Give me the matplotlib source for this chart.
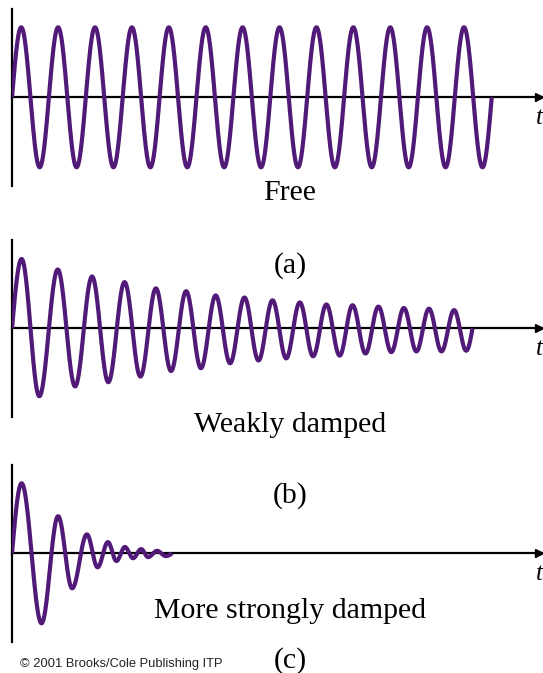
import numpy as np
import matplotlib.pyplot as plt

# time in units of the free period, displacement in units of the free amplitude
free_peak_t = [0.25, 1.25, 2.25, 3.25, 4.25, 5.25, 6.25, 7.25, 8.25, 9.25, 10.25, 11.25, 12.25]
free_trough_t = [0.75, 1.75, 2.75, 3.75, 4.75, 5.75, 6.75, 7.75, 8.75, 9.75, 10.75, 11.75, 12.75]
free_peak_a = [1.0] * 13
free_trough_a = [1.0] * 13
free_end = 13.0

weak_peak_t = [0.26, 1.24, 2.17, 3.05, 3.90, 4.72, 5.52, 6.30, 7.06, 7.80, 8.52, 9.23, 9.93, 10.62, 11.30, 11.98]
weak_trough_t = [0.74, 1.71, 2.61, 3.48, 4.31, 5.12, 5.91, 6.68, 7.43, 8.16, 8.88, 9.58, 10.28, 10.96, 11.64, 12.31]
weak_peak_a = [0.99, 0.84, 0.74, 0.66, 0.57, 0.53, 0.47, 0.44, 0.40, 0.37, 0.34, 0.33, 0.31, 0.29, 0.28, 0.26]
weak_trough_a = [0.97, 0.83, 0.77, 0.69, 0.61, 0.57, 0.50, 0.46, 0.43, 0.40, 0.39, 0.36, 0.34, 0.33, 0.33, 0.32]
weak_end = 12.48

strong_peak_t = [0.26, 1.25, 2.03, 2.60, 3.06, 3.50, 3.93]
strong_trough_t = [0.80, 1.63, 2.32, 2.83, 3.28, 3.69, 4.17]
strong_peak_a = [1.0, 0.53, 0.27, 0.16, 0.09, 0.06, 0.035]
strong_trough_a = [1.0, 0.50, 0.20, 0.11, 0.07, 0.055, 0.04]
strong_end = 4.34

captions = ["Free", "Weakly damped", "More strongly damped"]
letters = ["(a)", "(b)", "(c)"]

PURPLE = "#521a78"
W, H = 543, 673


def trace(peak_t, peak_a, trough_t, trough_a, t_end, n=60):
    t_ext = np.concatenate([peak_t, trough_t])
    a_ext = np.concatenate([peak_a, -np.array(trough_a)])
    order = np.argsort(t_ext)
    t_ext, a_ext = t_ext[order], a_ext[order]
    s = np.linspace(0, 1, n)
    ts = [t_ext[0] * s]
    ys = [a_ext[0] * np.sin(np.pi / 2 * s)]
    for i in range(len(t_ext) - 1):
        ts.append(t_ext[i] + (t_ext[i + 1] - t_ext[i]) * s)
        c = np.cos(np.pi * s)
        ys.append(a_ext[i] * (1 + c) / 2 + a_ext[i + 1] * (1 - c) / 2)
    ts.append(t_ext[-1] + (t_end - t_ext[-1]) * s)
    ys.append(a_ext[-1] * np.cos(np.pi / 2 * s))
    return np.concatenate(ts), np.concatenate(ys)


panels = [
    (free_peak_t, free_peak_a, free_trough_t, free_trough_a, free_end),
    (weak_peak_t, weak_peak_a, weak_trough_t, weak_trough_a, weak_end),
    (strong_peak_t, strong_peak_a, strong_trough_t, strong_trough_a, strong_end),
]
tops = [9, 240, 465]
cap_y = [193, 425, 611]
let_y = [266, 496, 661]

fig = plt.figure(figsize=(W / 100, H / 100), dpi=100)
px_per_t = 36.9
px_per_a = 70.0
box_h = 177
zero_off = 88.3
for k, (pt, pa, tt, ta, te) in enumerate(panels):
    top = tops[k]
    ax = fig.add_axes([12 / W, 1 - (top + box_h) / H, (W - 12) / W, box_h / H])
    ax.set_xlim(0, (W - 12) / px_per_t)
    ax.set_ylim(-(box_h - zero_off) / px_per_a, zero_off / px_per_a)
    t, y = trace(pt, pa, tt, ta, te)
    ax.plot(t, y, color=PURPLE, lw=3.0, solid_capstyle="butt", zorder=3)
    for side in ["top", "right"]:
        ax.spines[side].set_visible(False)
    ax.spines["left"].set_linewidth(1.6)
    ax.spines["bottom"].set_position(("data", 0))
    ax.spines["bottom"].set_linewidth(1.6)
    ax.spines["bottom"].set_zorder(2)
    ax.set_xticks([])
    ax.set_yticks([])
    ax.patch.set_visible(False)
    ax.plot(0.993, 0, marker=">", color="black", ms=6, transform=ax.get_yaxis_transform(),
            clip_on=False, zorder=4)
    ax.text(0.999, -21 / px_per_a, "t", transform=ax.get_yaxis_transform(), ha="right", va="center",
            fontsize=18, family="Liberation Serif", style="italic", clip_on=False)
    fig.text(290 / W, 1 - cap_y[k] / H, captions[k], ha="center", va="center",
             fontsize=21.5, family="Liberation Serif")
    fig.text(290 / W, 1 - let_y[k] / H, letters[k], ha="center", va="center",
             fontsize=21.5, family="Liberation Serif")

fig.text(20 / W, 1 - 664 / H, "\u00a9 2001 Brooks/Cole Publishing ITP", ha="left", va="center",
         fontsize=9.3, family="Liberation Sans", color="#222222")

fig.savefig("out.png", dpi=100)
